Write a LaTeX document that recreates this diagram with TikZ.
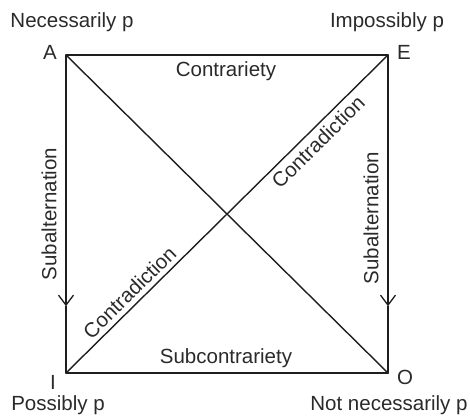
\documentclass[tikz,border=0pt]{standalone}
\usepackage{fontspec}
\setmainfont{Liberation Sans}
\usetikzlibrary{arrows.meta}
\definecolor{ink}{HTML}{1E1E1E}
\definecolor{txt}{HTML}{2A2A2A}
\begin{document}
\begin{tikzpicture}[x=1pt,y=-1pt,
  edge/.style={draw=ink,line width=1.4pt,line cap=round,line join=miter},
  arr/.style={edge,-{Straight Barb[length=10pt,width=15pt,line width=1.3pt]}},
  lbl/.style={text=txt,font=\fontsize{20.5}{24}\selectfont,inner sep=0pt,anchor=center},
  rel/.style={text=txt,font=\fontsize{20.5}{24}\selectfont,inner sep=0pt}]
\useasboundingbox (0,0) rectangle (470,416);
\coordinate (A) at (66,55);
\coordinate (E) at (388,55);
\coordinate (I) at (66,373);
\coordinate (O) at (388,373);
% labels
\node[lbl] (nA) at (50,52) {A};
\node[lbl] (nE) at (404,52) {E};
\node[lbl] (nI) at (53,382) {I};
\node[lbl] (nO) at (405,377) {O};
\node[lbl] (nec) at (72,22) {Necessarily p};
\node[lbl] (imp) at (387,22) {Impossibly p};
\node[lbl] (pos) at (58,405) {Possibly p};
\node[lbl] (notnec) at (389,405) {Not necessarily p};
% edges
\path (A) -- (I) coordinate[pos=0.79] (AI);
\path (E) -- (O) coordinate[pos=0.79] (EO);
\draw[edge] (A) -- (E);
\draw[edge] (I) -- (O);
\draw[arr] (A) -- (AI);
\draw[edge] (AI) -- (I);
\draw[arr] (E) -- (EO);
\draw[edge] (EO) -- (O);
\draw[edge] (A) -- (O);
\draw[edge] (I) -- (E);
% relation labels
\node[rel] (contr) at (226,71) {Contrariety};
\node[rel] (subc) at (226,358) {Subcontrariety};
\node[rel,rotate=90] (subL) at (49,214) {Subalternation};
\node[rel,rotate=90] (subR) at (371,218) {Subalternation};
\path (I) -- (E)
  node[rel,pos=0.755,sloped,below=5pt] (cdU) {Contradiction}
  node[rel,pos=0.225,sloped,above=5pt] (cdL) {Contradiction};
\end{tikzpicture}
\end{document}
